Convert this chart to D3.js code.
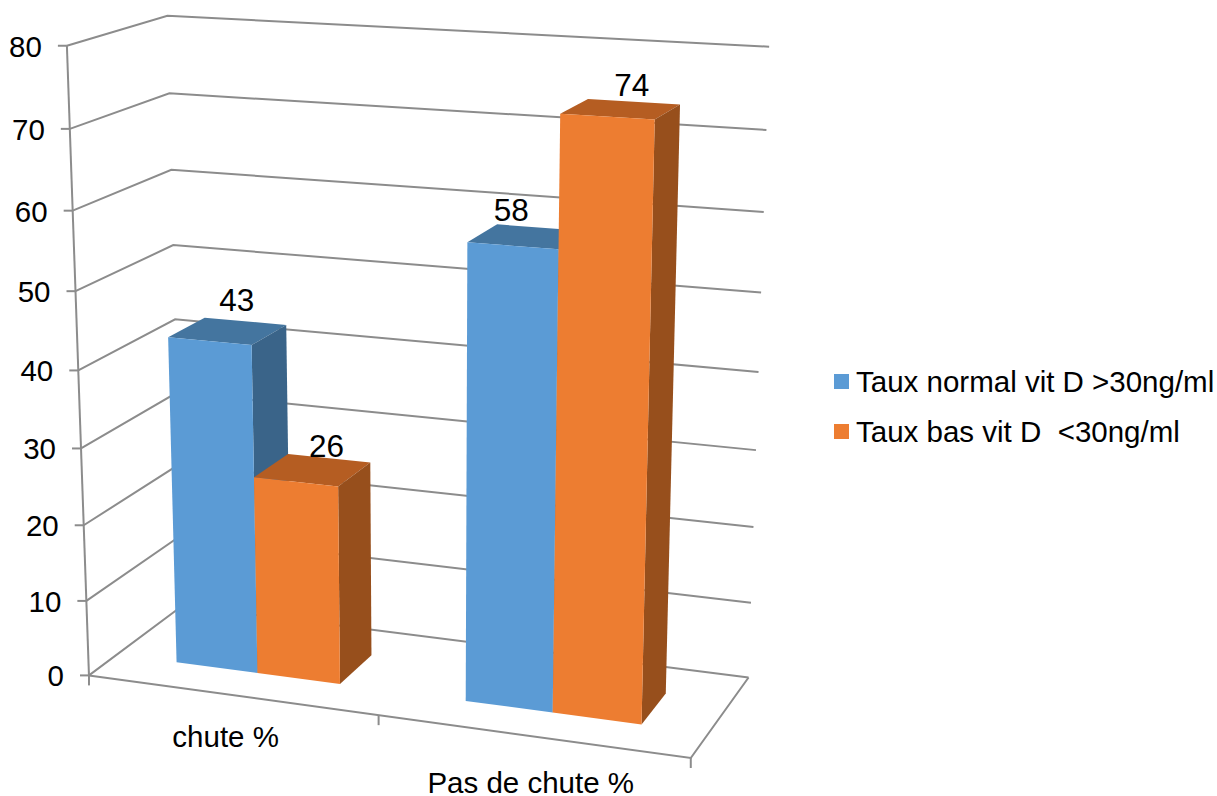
<!DOCTYPE html>
<html><head><meta charset="utf-8">
<script src="https://cdn.jsdelivr.net/npm/d3@7"></script>
<style>html,body{margin:0;padding:0;background:#fff}svg{display:block}text{font-family:"Liberation Sans",Arial,sans-serif;fill:#000}</style>
</head><body>
<svg id="c" width="1217" height="796"></svg>
<script>
const categories = ["chute %", "Pas de chute %"];
const seriesNames = ["Taux normal vit D >30ng/ml", "Taux bas vit D  <30ng/ml"];
const normalValues = [43, 58];
const lowValues = [26, 74];
const yTicks = [0, 10, 20, 30, 40, 50, 60, 70, 80];

// colour by series: front, top, side
const palette = [
  {front:"#5B9BD5", top:"#44759F", side:"#3A6489"},
  {front:"#ED7D31", top:"#B55D22", side:"#974F1C"}
];
// camera calibration: scene corner (u,v,w) -> page pixel
const calib = [
  [0,0,0, 88,676.5],[0,0,1, 68,46],[0,0,.5, 78,370],
  [0,1,0, 184,605],[0,1,1, 167,16],[0,1,.5, 174,319],
  [1,1,0, 748,678],[1,1,1, 769,46],[1,1,.5, 759,373],
  [1,0,0, 691,757]
];
function solve(A,b){
  const n=b.length, M=A.map((r,i)=>[...r,b[i]]);
  for(let i=0;i<n;i++){
    let p=i; for(let k=i+1;k<n;k++) if(Math.abs(M[k][i])>Math.abs(M[p][i])) p=k;
    [M[i],M[p]]=[M[p],M[i]];
    for(let k=i+1;k<n;k++){const f=M[k][i]/M[i][i]; for(let j=i;j<=n;j++) M[k][j]-=f*M[i][j];}
  }
  const x=Array(n).fill(0);
  for(let i=n-1;i>=0;i--){let s=M[i][n]; for(let j=i+1;j<n;j++) s-=M[i][j]*x[j]; x[i]=s/M[i][i];}
  return x;
}
const rows=[],rhs=[];
calib.forEach(([u,v,w,px,py])=>{
  rows.push([u,v,w,1,0,0,0,0,-px*u,-px*v,-px*w]); rhs.push(px);
  rows.push([0,0,0,0,u,v,w,1,-py*u,-py*v,-py*w]); rhs.push(py);
});
const AtA=Array.from({length:11},(_,i)=>Array.from({length:11},(_,j)=>d3.sum(rows,r=>r[i]*r[j])));
const Atb=Array.from({length:11},(_,i)=>d3.sum(rows,(r,k)=>r[i]*rhs[k]));
const H=solve(AtA,Atb);
function project(u,v,w){
  const d=H[8]*u+H[9]*v+H[10]*w+1;
  return [(H[0]*u+H[1]*v+H[2]*w+H[3])/d,(H[4]*u+H[5]*v+H[6]*w+H[7])/d];
}

const svg=d3.select("#c");
const yScale=d3.scaleLinear().domain([0,80]).range([0,1]);
const xBand=d3.scaleBand().domain(categories).range([0,1]);
const padLeft=0.214, padRight=0.212, depth0=0.29, depth1=0.68;
const gridColor="#8C8C8C", line=d3.line(), fontSize=29.5;

const walls=svg.append("g").attr("fill","none").attr("stroke",gridColor).attr("stroke-width",2);
yTicks.forEach(t=>{
  const w=yScale(t);
  walls.append("path").attr("d",line([project(0,0,w),project(0,1,w),project(1,1,w)]));
  const [tx,ty]=project(0,0,w);
  walls.append("path").attr("d",line([[tx-9,ty],[tx,ty]]));
  svg.append("text").attr("x",tx-25).attr("y",ty+11).attr("text-anchor","end").attr("font-size",fontSize).text(t);
});
walls.append("path").attr("d",line([project(0,0,0),project(0,0,1)]));
walls.append("path").attr("d",line([project(0,0,0),project(1,0,0),project(1,1,0)]));
[0,.5,1].forEach(u=>{const [x,y]=project(u,0,0); walls.append("path").attr("d",line([[x,y],[x,y+10]]));});

const catNudge=[[-5.5,52],[-1,57]];
categories.forEach((c,i)=>{
  const [x,y]=project(xBand(c)+xBand.bandwidth()/2,0,0);
  svg.append("text").attr("x",x+catNudge[i][0]).attr("y",y+catNudge[i][1]).attr("text-anchor","middle").attr("font-size",fontSize).text(c);
});

const labelNudge=[[[9,-20],[14,-13]],[[-16,-16],[11,-13]]];
const bars=svg.append("g");
const labels=[];
categories.forEach((c,ci)=>{
  const s=xBand(c), bw=xBand.bandwidth();
  const inner=d3.scaleBand().domain(seriesNames).range([s+bw*padLeft,s+bw-bw*padRight]);
  [normalValues,lowValues].forEach((vals,si)=>{
    const u0=inner(seriesNames[si]), u1=u0+inner.bandwidth(), w=yScale(vals[ci]), col=palette[si];
    const poly=(pts,fill)=>bars.append("polygon").attr("points",pts.map(p=>p.join(",")).join(" ")).attr("fill",fill);
    poly([project(u0,depth0,w),project(u1,depth0,w),project(u1,depth1,w),project(u0,depth1,w)],col.top);
    poly([project(u1,depth0,0),project(u1,depth1,0),project(u1,depth1,w),project(u1,depth0,w)],col.side);
    poly([project(u0,depth0,0),project(u1,depth0,0),project(u1,depth0,w),project(u0,depth0,w)],col.front);
    const [lx,ly]=project((u0+u1)/2,(depth0+depth1)/2,w);
    labels.push({x:lx+labelNudge[ci][si][0],y:ly+labelNudge[ci][si][1],t:vals[ci]});
  });
});
labels.forEach(l=>svg.append("text").attr("x",l.x).attr("y",l.y).attr("text-anchor","middle").attr("font-size",31.5).text(l.t));

const legendY=d3.scalePoint().domain(seriesNames).range([381.5,431.5]);
seriesNames.forEach((n,i)=>{
  svg.append("rect").attr("x",834).attr("y",legendY(n)-7.5).attr("width",15).attr("height",15).attr("fill",palette[i].front);
  svg.append("text").attr("x",856).attr("y",legendY(n)+10).attr("font-size",fontSize).attr("xml:space","preserve").style("white-space","pre").text(n);
});
</script>
</body></html>
